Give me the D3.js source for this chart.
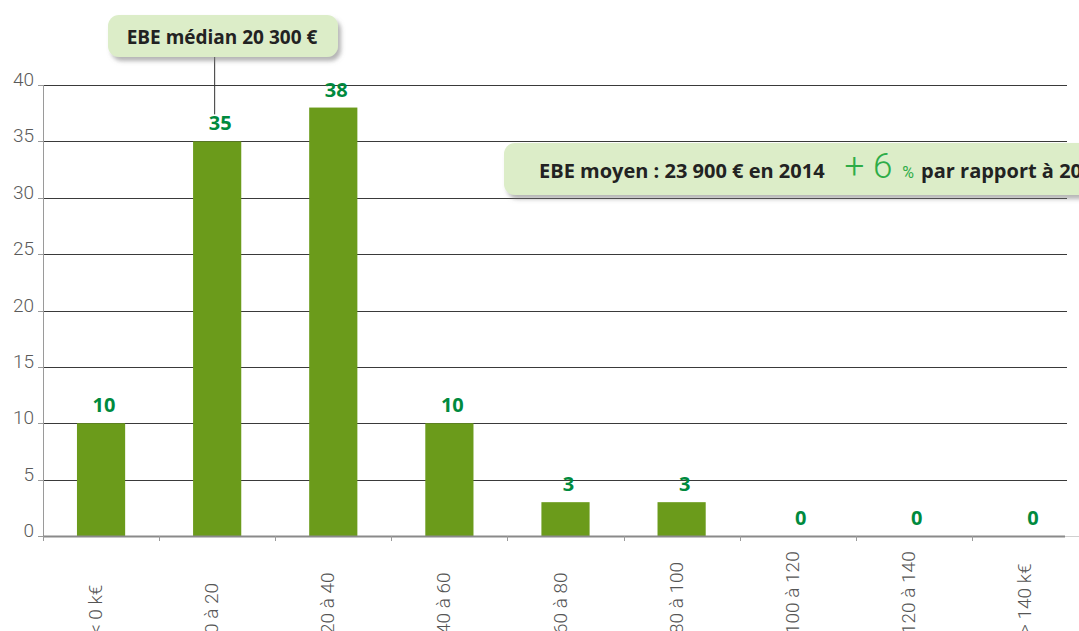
<!DOCTYPE html>
<html><head><meta charset="utf-8">
<script src="https://cdn.jsdelivr.net/npm/d3@7/dist/d3.min.js"></script>
<style>body{margin:0;background:#fff;overflow:hidden} svg{display:block}</style>
</head><body><svg id="c" width="1079" height="631"></svg>
<script>
const categories = ["< 0 k€","0 à 20","20 à 40","40 à 60","60 à 80","80 à 100","100 à 120","120 à 140","> 140 k€"];
const values = [10,35,38,10,3,3,0,0,0];
const yTicks = [0,5,10,15,20,25,30,35,40];
const medianLabel = "EBE médian 20 300 €";
const meanParts = ["EBE moyen : 23 900 € en 2014", "+ 6", "%", "par rapport à 2013"];

const W = 1079, H = 631;
const plotLeft = 43, plotRight = 1088, gridEnd = 1067, plotTop = 85, base = 536;
const svg = d3.select("#c");
const defs = svg.append("defs");
const f = defs.append("filter").attr("id","sh").attr("x","-10%").attr("y","-20%").attr("width","130%").attr("height","160%");
f.append("feDropShadow").attr("dx",3).attr("dy",4).attr("stdDeviation",2.2).attr("flood-color","#777").attr("flood-opacity",0.55);

const x = d3.scaleBand().domain(categories).range([plotLeft, plotRight]).paddingInner(0.585).paddingOuter(0.2925);
const y = d3.scaleLinear().domain([0,40]).range([base, plotTop]);
const step = x.step();
const pad = step * x.paddingInner();

const lightFont = "Roboto, 'Open Sans', sans-serif";
const boldFont = "'Open Sans', Roboto, sans-serif";

// gridlines
svg.append("g").selectAll("line").data(yTicks.filter(t => t > 0)).join("line")
  .attr("x1", plotLeft).attr("x2", gridEnd)
  .attr("y1", d => Math.round(y(d)) + 0.5).attr("y2", d => Math.round(y(d)) + 0.5)
  .attr("stroke", "#3a3a3a").attr("stroke-width", 1);

// y axis
svg.append("line").attr("x1", plotLeft + 0.5).attr("x2", plotLeft + 0.5).attr("y1", plotTop).attr("y2", base + 4)
  .attr("stroke", "#9a9a9a").attr("stroke-width", 1);
const yAxis = svg.append("g");
yAxis.selectAll("line").data(yTicks).join("line")
  .attr("x1", plotLeft - 5).attr("x2", plotLeft)
  .attr("y1", d => Math.round(y(d)) + 0.5).attr("y2", d => Math.round(y(d)) + 0.5)
  .attr("stroke", "#9a9a9a");
yAxis.selectAll("text").data(yTicks).join("text")
  .attr("x", plotLeft - 9).attr("y", d => y(d) + 1)
  .attr("text-anchor", "end")
  .attr("font-family", lightFont).attr("font-weight", 300).attr("font-size", 19)
  .attr("fill", "#5a5a5a").text(d => d);

// bars
svg.append("g").selectAll("rect").data(values).join("rect")
  .attr("x", (d,i) => x(categories[i])).attr("width", x.bandwidth())
  .attr("y", d => y(d)).attr("height", d => base - y(d))
  .attr("fill", "#6b9b1b");

// baseline and x ticks
svg.append("line").attr("x1", plotLeft).attr("x2", gridEnd - 2).attr("y1", base + 0.5).attr("y2", base + 0.5)
  .attr("stroke", "#8a8a8a").attr("stroke-width", 2);
svg.append("line").attr("x1", gridEnd - 2).attr("x2", W).attr("y1", base + 0.5).attr("y2", base + 0.5)
  .attr("stroke", "#d0d0d0").attr("stroke-width", 1);
svg.append("g").selectAll("line").data(categories).join("line")
  .attr("x1", d => Math.round(x(d) - pad/2) + 0.5).attr("x2", d => Math.round(x(d) - pad/2) + 0.5)
  .attr("y1", base).attr("y2", base + 5).attr("stroke", "#9a9a9a");

// value labels
svg.append("g").selectAll("text").data(values).join("text")
  .attr("x", (d,i) => x(categories[i]) + x.bandwidth()/2 + 3)
  .attr("y", d => y(d) - 11)
  .attr("text-anchor", "middle")
  .attr("font-family", boldFont).attr("font-weight", 700).attr("font-size", 20)
  .attr("fill", "#008a3e").text(d => d);

// x labels
svg.append("g").selectAll("text").data(categories).join("text")
  .attr("transform", d => `translate(${x(d) + x.bandwidth()/2 + 1},${634}) rotate(-90)`)
  .attr("text-anchor", "start")
  .attr("font-family", lightFont).attr("font-weight", 300).attr("font-size", 19)
  .attr("fill", "#555").text(d => d);

// median callout
const medX = x(categories[1]) + x.bandwidth()/2 - 3;
svg.append("line").attr("x1", medX + 0.5).attr("x2", medX + 0.5).attr("y1", 57).attr("y2", y(values[1]) - 27)
  .attr("stroke", "#333").attr("stroke-width", 1);
svg.append("rect").attr("x", 108).attr("y", 15).attr("width", 230).attr("height", 42).attr("rx", 11)
  .attr("fill", "#dcedc8").attr("filter", "url(#sh)");
svg.append("text").attr("x", 222).attr("y", 44).attr("text-anchor", "middle")
  .attr("font-family", boldFont).attr("font-weight", 700).attr("font-size", 19)
  .attr("fill", "#222").text(medianLabel);

// mean callout
svg.append("rect").attr("x", 504).attr("y", 143).attr("width", 620).attr("height", 52).attr("rx", 11)
  .attr("fill", "#dcedc8").attr("filter", "url(#sh)");
const t = svg.append("text").attr("x", 539).attr("y", 178)
  .attr("font-family", boldFont).attr("font-weight", 700).attr("font-size", 20).attr("fill", "#222");
t.append("tspan").text(meanParts[0]);
t.append("tspan").attr("dx", 20).attr("font-family", lightFont).attr("font-weight", 300).attr("font-size", 35).attr("fill", "#2eac47").text(meanParts[1]);
t.append("tspan").attr("dx", 10).attr("font-family", lightFont).attr("font-weight", 400).attr("font-size", 16).attr("fill", "#2eac47").text(meanParts[2]);
t.append("tspan").attr("dx", 7).text(meanParts[3]);
</script></body></html>
